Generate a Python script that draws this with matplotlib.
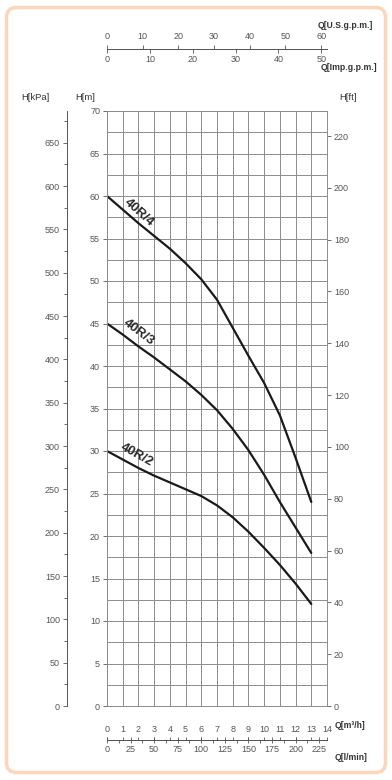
import matplotlib.pyplot as plt
from matplotlib.patches import FancyBboxPatch
from matplotlib.transforms import IdentityTransform
from matplotlib.ticker import MultipleLocator

plt.rcParams['font.family'] = ['Liberation Sans', 'DejaVu Sans']

# flow in m3/h and head in m
q = [0, 1, 2, 3, 4, 5, 6, 7, 8, 9, 10, 11, 12, 13]
h_40r4 = [60, 58.4, 56.8, 55.3, 53.8, 52.1, 50.2, 47.8, 44.5, 41.2, 38.0, 34.2, 29.2, 24]
h_40r3 = [45, 43.7, 42.3, 41.0, 39.6, 38.2, 36.6, 34.8, 32.6, 30.1, 27.2, 24.0, 21.0, 18]
h_40r2 = [30, 29.0, 28.0, 27.1, 26.3, 25.5, 24.7, 23.6, 22.2, 20.5, 18.6, 16.6, 14.4, 12]
curves = [(h_40r4, '40R/4'), (h_40r3, '40R/3'), (h_40r2, '40R/2')]
label_pos = [(2.05, 58.1, -42), (2.0, 44.0, -37), (1.9, 29.5, -29)]

grid_c = '#8c8c8c'
tick_c = '#555555'
fs = 6.5

fig = plt.figure(figsize=(3.92, 7.8), dpi=100)
ax = fig.add_axes([107 / 392, 74 / 780, 220 / 392, 595 / 780])
ax.set_xlim(0, 14)
ax.set_ylim(0, 70)

ax.xaxis.set_major_locator(MultipleLocator(1))
ax.yaxis.set_major_locator(MultipleLocator(5))
ax.yaxis.set_minor_locator(MultipleLocator(2.5))
ax.grid(True, which='both', color=grid_c, lw=0.7)
ax.tick_params(axis='x', length=0, labelbottom=False)
ax.tick_params(axis='y', which='major', length=3, width=0.6, color=tick_c,
               labelsize=fs, labelcolor=tick_c, pad=2)
ax.tick_params(axis='y', which='minor', length=0)
for s in ax.spines.values():
    s.set_color(grid_c)
    s.set_linewidth(0.7)

for (h, name), (lx, ly, rot) in zip(curves, label_pos):
    ax.plot(q, h, color='#1a1a1a', lw=1.6, solid_capstyle='round')
    ax.text(lx, ly, name, fontsize=9.5, fontweight='bold', color='#2a2a2a',
            rotation=rot, rotation_mode='anchor', ha='center', va='center')

# kPa scale on the far left
kpa = ax.secondary_yaxis(-40 / 220, functions=(lambda m: m * 9.81, lambda k: k / 9.81))
kpa.yaxis.set_major_locator(MultipleLocator(50))
kpa.yaxis.set_minor_locator(MultipleLocator(25))
kpa.tick_params(which='major', length=3, width=0.6, color=tick_c,
                labelsize=fs, labelcolor=tick_c, pad=2)
kpa.tick_params(which='minor', length=2, width=0.6, color=tick_c)
kpa.spines['left'].set_color(tick_c)
kpa.spines['left'].set_linewidth(0.7)

# feet scale on the right
ft = ax.secondary_yaxis('right', functions=(lambda m: m / 0.3048, lambda f: f * 0.3048))
ft.yaxis.set_major_locator(MultipleLocator(20))
ft.tick_params(length=3, width=0.6, color=tick_c, labelsize=fs,
               labelcolor=tick_c, pad=2)
ft.spines['right'].set_visible(False)

# gallon scales on top
top_y = (706 - 49) / 595
us = ax.secondary_xaxis(top_y, functions=(lambda x: x * 4.40287, lambda g: g / 4.40287))
us.xaxis.set_major_locator(MultipleLocator(10))
us.tick_params(length=3, width=0.6, color=tick_c, labelsize=fs,
               labelcolor=tick_c, pad=3)
imp = ax.secondary_xaxis(top_y, functions=(lambda x: x * 3.66615, lambda g: g / 3.66615))
imp.set_alignment('bottom')
imp.xaxis.set_major_locator(MultipleLocator(10))
imp.tick_params(length=3, width=0.6, color=tick_c, labelsize=fs,
                labelcolor=tick_c, pad=1.5)

# m3/h and l/min scales at the bottom
bot_y = -34 / 595
m3 = ax.secondary_xaxis(bot_y, functions=(lambda x: x, lambda x: x))
m3.set_alignment('top')
m3.xaxis.set_major_locator(MultipleLocator(1))
m3.tick_params(length=2.5, width=0.6, color=tick_c, labelsize=fs,
               labelcolor=tick_c, pad=2)
lmin = ax.secondary_xaxis(bot_y, functions=(lambda x: x * 16.6667, lambda l: l / 16.6667))
lmin.xaxis.set_major_locator(MultipleLocator(25))
lmin.xaxis.set_minor_locator(MultipleLocator(12.5))
lmin.tick_params(which='major', direction='inout', length=5, width=0.6,
                 color=tick_c, labelsize=fs, labelcolor=tick_c, pad=1)
lmin.tick_params(which='minor', length=2, width=0.6, color=tick_c)

for sa in (us, imp, m3, lmin):
    for s in sa.spines.values():
        s.set_color(tick_c)
        s.set_linewidth(0.7)
for a in (ax, kpa, ft, us, imp, m3, lmin):
    a.xaxis.offsetText.set_visible(False)
    a.yaxis.offsetText.set_visible(False)

# axis titles
lab = dict(fontsize=6.8, color='#333333', ha='center', va='center')
fig.text(35.5 / 392, 1 - 98 / 780, 'H[kPa]', **lab)
fig.text(85 / 392, 1 - 98 / 780, 'H[m]', **lab)
fig.text(348 / 392, 1 - 98 / 780, 'H[ft]', **lab)
blab = dict(fontsize=6.2, fontweight='bold', color='#333333', va='center', ha='left')
fig.text(318 / 392, 1 - 25 / 780, 'Q[U.S.g.p.m.]', **blab)
fig.text(321 / 392, 1 - 68 / 780, 'Q[Imp.g.p.m.]', **blab)
fig.text(335 / 392, 1 - 725 / 780, 'Q[m³/h]', **blab)
fig.text(335 / 392, 1 - 757 / 780, 'Q[l/min]', **blab)

# rounded peach frame
frame = FancyBboxPatch((6.5, 7.5), 379, 765, boxstyle='round,pad=0,rounding_size=10',
                       transform=IdentityTransform(), fill=False,
                       edgecolor='#fbd6bb', lw=2.5)
fig.patches.append(frame)

fig.savefig('out.png', dpi=100)
